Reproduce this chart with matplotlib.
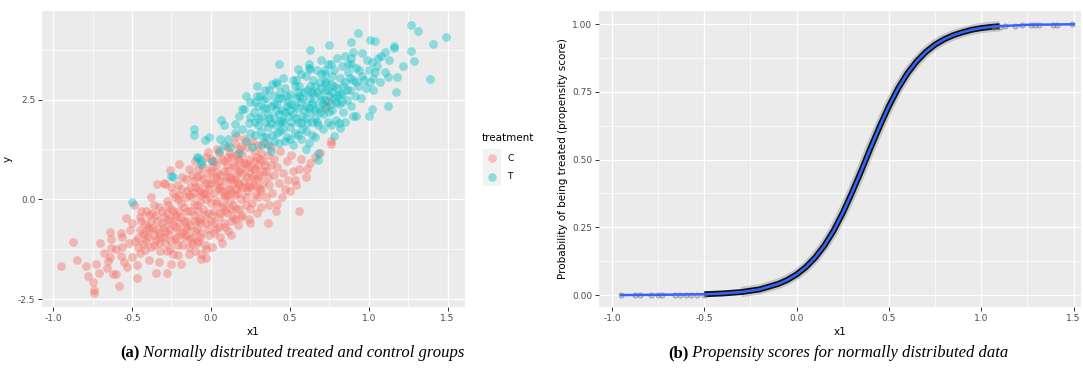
import matplotlib
import numpy as np

matplotlib.use("Agg")
from matplotlib import pyplot as plt
from matplotlib.lines import Line2D
from matplotlib.patches import Rectangle

# control group (treatment == "C")
CONTROL_X1 = [
    -0.95, -0.875, -0.85, -0.79, -0.78, -0.75, -0.74, -0.74, -0.73, -0.71,
    -0.66, -0.64, -0.64, -0.63, -0.63, -0.62, -0.60, -0.58, -0.57, -0.56,
    -0.57, -0.55, -0.54, -0.53, -0.51, -0.49, -0.50, -0.47, -0.47, -0.46,
    -0.44, -0.42, -0.41, -0.39, -0.38, -0.35, -0.34, -0.33, -0.29, -0.28,
    -0.26, -0.25, -0.24, -0.20, -0.19, -0.14, -0.06, -0.06, -0.03, -0.30,
    -0.02, 0.16, 0.56, 0.36, 0.25, 0.13, 0.69, 0.61, 0.56, 0.53,
    0.47, 0.42, 0.37, 0.49, 0.76, 0.76, 0.74, 0.72,
    -0.48, -0.45, -0.43, -0.42, -0.40, -0.39, -0.38, -0.37, -0.36, -0.35,
    -0.34, -0.33, -0.32, -0.31, -0.30, -0.29, -0.28, -0.27, -0.27, -0.26,
    -0.25, -0.24, -0.24, -0.23, -0.22, -0.21, -0.21, -0.20, -0.19, -0.18,
    -0.18, -0.17, -0.45, -0.52, -0.50, -0.56, -0.60, -0.68, -0.70, -0.65,
    -0.16, -0.15, -0.15, -0.14, -0.14, -0.13, -0.12, -0.12, -0.11, -0.11,
    -0.10, -0.10, -0.09, -0.09, -0.08, -0.08, -0.07, -0.07, -0.06, -0.06,
    -0.05, -0.05, -0.04, -0.04, -0.03, -0.03, -0.02, -0.02, -0.01, -0.01,
    0.00, 0.00, 0.00, 0.01, 0.01, 0.02, 0.02, 0.03, 0.03, 0.04,
    0.04, 0.05, 0.05, 0.06, 0.06, 0.07, 0.07, 0.08, 0.08, 0.09,
    0.09, 0.10, 0.10, 0.11, 0.11, 0.12, 0.12, 0.13, 0.13, 0.14,
    0.14, 0.15, 0.15, 0.16, 0.16, 0.17, 0.17, 0.18, 0.18, 0.19,
    0.19, 0.20, 0.20, 0.21, 0.21, 0.22, 0.22, 0.23, 0.23, 0.24,
    0.24, 0.25, 0.25, 0.26, 0.26, 0.27, 0.27, 0.28, 0.28, 0.29,
    0.29, 0.30, 0.30, 0.31, 0.31, 0.32, 0.32, 0.33, 0.33, 0.34,
    0.35, 0.35, 0.36, 0.37, 0.38, 0.38, 0.39, 0.40, 0.40, 0.41,
    0.42, 0.43, 0.44, 0.45, 0.46, 0.48, 0.50, 0.51, 0.52, 0.54,
    0.57, 0.60, 0.63, 0.66,
    -0.02, 0.03, 0.05, 0.08, 0.10, 0.12, 0.15, 0.17, 0.20, 0.22,
    0.25, 0.06, 0.09, 0.14, 0.18, -0.05, -0.08, 0.01, 0.04, 0.11,
    -0.10, -0.13, 0.16, 0.19, 0.23, 0.27, 0.30, 0.33, 0.36, 0.13,
    -0.20, -0.23, -0.16, -0.03, 0.07, 0.02,
    -0.28, -0.26, -0.25, -0.23, -0.22, -0.21, -0.20, -0.19, -0.18, -0.17,
    -0.16, -0.15, -0.14, -0.13, -0.12, -0.11, -0.10, -0.09, -0.08, -0.07,
    -0.06, -0.05, -0.04, -0.03, -0.02, -0.01, 0.00, 0.01, 0.02, 0.03,
    0.04, 0.05, 0.06, 0.07, 0.08, 0.09, 0.10, 0.11, 0.12, 0.13,
    0.14, 0.15, 0.16, 0.17, 0.18, 0.19, 0.20, 0.21, 0.22, 0.23,
    0.24, 0.25, 0.26, 0.27, 0.28, 0.29, 0.30, 0.31, 0.32, 0.34,
    -0.35, -0.33, -0.31, -0.30, -0.36, -0.40, -0.42, -0.38, -0.44, -0.46,
    0.00, 0.02, 0.05, 0.08, 0.10, -0.04, -0.07, 0.13, 0.15, 0.18,
    -0.45, -0.43, -0.41, -0.39, -0.37, -0.36, -0.34, -0.33, -0.32, -0.30,
    -0.29, -0.28, -0.27, -0.26, -0.25, -0.24, -0.22, -0.21, -0.20, -0.19,
    -0.17, -0.16, -0.15, -0.13, -0.12, -0.11, -0.10, -0.09, -0.08, -0.07,
]
CONTROL_Y = [
    -1.67, -1.08, -1.53, -1.67, -1.92, -2.08, -2.36, -2.28, -1.61, -1.84,
    -1.72, -0.83, -1.44, -1.00, -1.22, -1.87, -1.87, -2.17, -0.84, -1.19,
    -1.42, -1.57, -0.48, -1.69, -0.78, -0.15, -1.44, -1.97, -1.65, -0.96,
    -0.54, -1.28, -0.29, -1.53, 0.06, -1.86, 0.39, -1.57, 0.39, -1.86,
    0.73, -1.61, -1.36, 0.89, -1.63, -1.38, -1.36, -1.50, -1.46, 0.41,
    1.18, 1.58, -0.29, -0.59, -0.59, -0.90, 1.16, 0.77, 0.77, 0.48,
    0.27, -0.11, -0.15, 0.48, 1.39, 1.45, 2.46, 2.29,
    -1.05, -0.78, -1.12, -0.62, -0.95, -0.40, -1.20, -0.72, -0.15, -1.02,
    -0.55, -0.85, -1.30, -0.30, -0.70, -1.10, -0.05, -0.50, -0.88, -1.25,
    -0.25, 0.15, -0.65, -1.00, -0.40, -1.40, 0.35, -0.80, -0.10, -1.15,
    0.55, -0.55, -1.35, -1.10, -0.60, -0.95, -1.25, -1.35, -1.10, -1.55,
    -0.90, 0.20, -0.30, -1.20, 0.75, -0.65, 0.05, -0.95, 0.45, -0.40,
    -1.30, 0.95, -0.15, -0.75, 0.30, -1.05, 0.60, -0.50, 0.10, -0.85,
    -0.25, 0.80, -1.15, 0.40, -0.60, 0.00, -0.35, 0.65, -0.90, 0.25,
    -0.10, 1.00, -0.55, 0.50, -1.20, 0.15, -0.30, 0.85, -0.75, 0.35,
    -0.05, 1.15, -0.45, 0.60, -0.95, 0.20, -0.20, 0.95, -0.60, 0.45,
    0.05, 1.30, -0.35, 0.70, -0.80, 0.25, -0.05, 1.05, 0.50, -0.45,
    0.85, 0.10, 1.40, -0.25, 0.60, 1.00, -0.65, 0.35, 1.25, 0.00,
    0.75, -0.40, 1.10, 0.45, 1.50, -0.15, 0.90, 0.20, 1.30, 0.65,
    -0.50, 1.00, 0.30, 1.45, -0.10, 0.75, 1.20, 0.10, 0.50, 1.05,
    -0.35, 0.85, 1.35, 0.25, 0.60, 1.15, -0.20, 0.95, 0.40, 1.40,
    0.05, 0.70, 1.10, 0.35, 0.85, 1.30, 0.15, 0.60, 1.00, -0.30,
    0.80, 0.40, 1.20, 0.05, 0.65, 0.95, 0.20, 1.10, 0.70, 0.35,
    1.00, 0.55, 0.90, 1.05,
    0.35, 0.55, 0.25, 0.70, 0.10, 0.55, 0.80, 0.40, 0.65, 0.30,
    0.80, -0.35, -0.70, -0.15, -0.25, 0.15, -0.30, 0.80, 1.25, 1.05,
    -0.55, 0.30, 0.25, 1.30, 0.55, 0.35, 0.05, 0.70, 0.55, -0.55,
    -0.30, 0.05, -0.70, -1.25, -1.10, -0.85,
    -0.35, -0.75, 0.30, -0.45, -0.95, 0.00, -0.60, 0.25, -0.85, -0.20,
    0.50, -0.55, 0.10, -1.00, 0.60, -0.15, 0.30, -1.10, 0.75, -0.05,
    -0.60, 0.50, -0.40, 1.05, -0.75, 0.05, 0.40, -0.40, 0.95, -0.10,
    0.65, -0.70, 0.30, 1.00, 0.10, -0.30, 0.55, 0.25, 1.15, -0.25,
    0.40, -0.50, 1.10, 0.15, 0.70, -0.45, 0.30, 0.90, 0.05, 0.85,
    0.35, -0.25, 0.55, 0.95, 0.75, 0.30, 0.55, 1.00, 0.20, 0.85,
    -0.40, -1.10, -0.60, -0.95, -0.90, -0.70, -0.90, -0.55, -0.30, -1.20,
    0.70, -0.60, 0.45, -0.15, 0.85, 0.15, 0.20, 0.15, 0.50, 0.95,
    -0.45, -0.85, -1.05, -0.75, -0.35, -1.15, -0.75, -0.20, -0.95, -0.45,
    -0.80, -1.30, -0.15, -0.55, -1.05, -0.30, -0.70, -1.15, 0.10, -0.45,
    -0.95, 0.05, -0.75, -0.30, -1.10, 0.15, -0.80, 0.55, -0.55, -0.95,
]

# treated group (treatment == "T")
TREATED_X1 = [
    1.27, 1.31, 1.49, 1.41, 1.39, 1.27, 1.29, 1.22, 1.16, 1.16,
    1.10, 1.06, 1.01, 1.04, 0.96, 0.93, 0.89, 0.75, 0.63, 0.43,
    0.41, 0.29, 0.20, 1.12, 1.17, 1.18, 1.12, 1.02, 1.00, 1.03,
    0.78, 0.82, 0.68, 0.90, 0.92, 0.87, 0.89, 0.76, 0.72, 0.70,
    0.63, 0.55, 0.62, 0.54, -0.11, -0.11, -0.04, -0.01, 0.065, 0.086,
    0.056, 0.11, 0.155, 0.18, 0.21, 0.25, -0.25, -0.08, -0.06, 0.01,
    -0.50, -0.24, -0.09, -0.06,
    0.05, 0.12, 0.18, 0.22, 0.26, 0.15, 0.20, 0.28, 0.30, 0.24,
    0.08, 0.32, 0.35, 0.38, 0.40,
    0.27, 0.28, 0.30, 0.31, 0.32, 0.33, 0.34, 0.35, 0.36, 0.36,
    0.37, 0.38, 0.39, 0.40, 0.40, 0.41, 0.42, 0.42, 0.43, 0.44,
    0.45, 0.45, 0.46, 0.47, 0.48, 0.48, 0.49, 0.50, 0.50, 0.51,
    0.52, 0.52, 0.53, 0.54, 0.55, 0.55, 0.56, 0.57, 0.58, 0.58,
    0.59, 0.60, 0.60, 0.61, 0.62, 0.63, 0.63, 0.64, 0.65, 0.65,
    0.66, 0.67, 0.68, 0.68, 0.69, 0.70, 0.71, 0.72, 0.72, 0.73,
    0.74, 0.75, 0.76, 0.77, 0.78, 0.78, 0.79, 0.80, 0.81, 0.82,
    0.83, 0.84, 0.85, 0.86, 0.87, 0.88, 0.89, 0.90, 0.91, 0.92,
    0.93, 0.95, 0.96, 0.98, 1.00, 1.02, 1.03, 1.05, 1.07, 1.08,
    1.10, 1.13, 0.46, 0.53, 0.57, 0.62, 0.67, 0.70, 0.74, 0.80,
    0.85, 0.90, 0.44, 0.39, 0.34, 0.29, 0.25, 0.22, 0.43, 0.47,
    0.52, 0.57, 0.62, 0.66, 0.71, 0.76, 0.81, 0.85, 0.60, 0.68,
    0.50, 0.54, 0.56, 0.59, 0.61, 0.64, 0.66, 0.69, 0.71, 0.73,
    0.75, 0.77, 0.79, 0.82, 0.84, 0.48, 0.45, 0.41, 0.37, 0.33,
    0.30, 0.32, 0.35, 0.38, 0.40, 0.43, 0.44, 0.47, 0.49, 0.51,
    0.53, 0.55, 0.57, 0.58, 0.60, 0.62, 0.64, 0.66, 0.67, 0.69,
    0.70, 0.72, 0.74, 0.76, 0.78, 0.80, 0.83, 0.86, 0.88, 0.92,
    0.25, 0.28, 0.33, 0.36, 0.42, 0.46, 0.50, 0.55, 0.60, 0.64,
    0.94, 0.97, 0.99, 1.01, 1.04, 0.89, 0.83, 0.77, 0.72, 0.65,
]
TREATED_Y = [
    4.38, 4.21, 4.08, 3.89, 3.02, 3.71, 3.46, 3.33, 3.85, 3.80,
    3.68, 3.54, 3.99, 3.96, 3.66, 4.16, 3.94, 3.88, 3.73, 3.38,
    2.93, 2.60, 2.27, 2.33, 2.68, 3.06, 3.06, 2.27, 2.10, 2.74,
    1.58, 1.78, 0.99, 2.08, 2.08, 3.39, 3.38, 3.39, 3.23, 3.14,
    3.27, 3.27, 3.30, 2.98, 1.77, 1.60, 1.48, 1.56, 2.00, 1.85,
    1.52, 1.52, 1.89, 2.08, 2.27, 2.06, 0.58, 1.04, 0.89, 0.96,
    -0.07, 0.56, 1.06, 0.97,
    1.20, 1.30, 1.15, 1.45, 1.30, 1.65, 1.75, 1.60, 1.85, 1.90,
    1.35, 1.35, 1.55, 1.20, 1.45,
    2.20, 2.45, 2.05, 2.60, 1.70, 2.30, 1.95, 2.55, 2.15, 1.80,
    2.75, 2.35, 1.60, 2.05, 2.60, 1.85, 2.40, 2.90, 2.15, 1.70,
    2.55, 2.25, 1.95, 2.80, 2.35, 1.55, 2.10, 2.65, 1.80, 2.40,
    3.00, 2.15, 1.65, 2.55, 2.30, 1.95, 2.85, 2.45, 2.10, 1.75,
    2.70, 2.35, 3.10, 1.90, 2.55, 2.20, 2.85, 1.60, 2.45, 3.00,
    2.05, 2.70, 2.30, 1.85, 2.95, 2.50, 2.15, 2.75, 3.15, 2.35,
    1.95, 2.60, 2.90, 2.25, 3.25, 2.55, 2.00, 2.80, 2.40, 3.05,
    2.65, 2.20, 2.95, 2.50, 3.20, 2.75, 2.35, 3.00, 2.60, 3.30,
    2.85, 2.55, 3.10, 2.80, 3.25, 3.45, 3.05, 3.35, 2.95, 3.60,
    3.20, 3.50, 3.05, 2.85, 3.15, 3.40, 3.25, 3.50, 3.40, 3.55,
    3.60, 3.70, 2.70, 2.90, 2.75, 2.85, 2.45, 2.60, 1.40, 1.45,
    1.35, 1.50, 1.40, 1.55, 1.75, 1.85, 1.90, 1.95, 1.25, 1.15,
    2.25, 2.05, 2.60, 2.25, 2.75, 2.40, 2.85, 2.60, 2.40, 2.95,
    2.20, 2.70, 2.45, 2.65, 2.85, 2.60, 2.00, 2.25, 2.05, 2.50,
    2.35, 2.10, 2.30, 1.90, 2.40, 2.55, 1.95, 2.20, 2.45, 1.95,
    2.35, 2.70, 1.90, 2.55, 2.05, 2.30, 2.70, 2.25, 1.95, 2.20,
    2.80, 2.50, 2.75, 2.40, 2.85, 2.60, 2.45, 2.75, 3.05, 2.95,
    1.65, 1.95, 1.55, 1.35, 1.65, 1.75, 1.50, 1.60, 1.70, 1.95,
    3.25, 3.00, 3.50, 2.95, 3.20, 3.55, 3.35, 3.10, 2.95, 2.65,
]

# fitted propensity score along x1
CURVE_X1 = [-0.95, -0.75, -0.50, -0.40, -0.30, -0.20, -0.10, -0.05, 0.00, 0.05,
            0.10, 0.15, 0.20, 0.25, 0.30, 0.35, 0.40, 0.45, 0.50, 0.55,
            0.60, 0.65, 0.70, 0.75, 0.80, 0.85, 0.90, 0.95, 1.00, 1.05,
            1.10, 1.25, 1.50]
CURVE_SCORE = [0.000, 0.001, 0.003, 0.006, 0.011, 0.021, 0.041, 0.056, 0.076, 0.103,
               0.138, 0.182, 0.237, 0.303, 0.378, 0.458, 0.542, 0.622, 0.697, 0.763,
               0.818, 0.862, 0.897, 0.924, 0.944, 0.959, 0.970, 0.979, 0.985, 0.989,
               0.992, 0.997, 0.999]

# individual scores visible in the tails
TAIL_X1 = [-0.95, -0.875, -0.85, -0.79, -0.75, -0.73, -0.66, -0.63, -0.60, -0.57,
           -0.54, -0.50, 1.07, 1.10, 1.13, 1.18, 1.22, 1.27, 1.29, 1.31,
           1.39, 1.41, 1.49]
TAIL_SCORE = [0.000, 0.000, 0.000, 0.000, 0.000, 0.000, 0.000, 0.000, 0.000, 0.000,
              0.000, 0.000, 0.988, 0.990, 0.992, 0.994, 0.995, 0.996, 0.997, 0.997,
              0.998, 0.998, 0.999]

GROUP_COLORS = {"C": "#F8766D", "T": "#00BFC4"}
PANEL_BG = "#EBEBEB"
TICK_COLOR = "#4D4D4D"

W, H = 1083, 374


def _fig_rect(left, top, right, bottom):
    return [left / W, 1 - bottom / H, (right - left) / W, (bottom - top) / H]


def _ggplot_axes(axis, xmajor, ymajor, xminor, yminor):
    axis.set_facecolor(PANEL_BG)
    for spine in axis.spines.values():
        spine.set_visible(False)
    axis.set_xticks(xmajor)
    axis.set_yticks(ymajor)
    axis.set_xticks(xminor, minor=True)
    axis.set_yticks(yminor, minor=True)
    axis.grid(True, which="major", color="white", linewidth=1.0)
    axis.grid(True, which="minor", color="white", linewidth=0.5)
    axis.set_axisbelow(True)
    axis.tick_params(which="major", length=2.8, width=0.7, color="#333333",
                     labelsize=6.5, labelcolor=TICK_COLOR, pad=2)
    axis.tick_params(which="minor", length=0)


figure = plt.figure(figsize=(W / 100, H / 100), dpi=100)

# (a) scatter of both groups
left = figure.add_axes(_fig_rect(42, 11, 465, 307))
_ggplot_axes(left, [-1.0, -0.5, 0.0, 0.5, 1.0, 1.5], [-2.5, 0.0, 2.5],
             [-0.75, -0.25, 0.25, 0.75, 1.25], [-1.25, 1.25, 3.75])
left.scatter(CONTROL_X1, CONTROL_Y, s=40, color=GROUP_COLORS["C"], alpha=0.45, linewidths=0)
left.scatter(TREATED_X1, TREATED_Y, s=40, color=GROUP_COLORS["T"], alpha=0.4, linewidths=0)
left.set_xlim(-1.07, 1.61)
left.set_ylim(-2.7, 4.72)
left.set_xticklabels(["-1.0", "-0.5", "0.0", "0.5", "1.0", "1.5"])
left.set_yticklabels(["-2.5", "0.0", "2.5"])
left.set_xlabel("x1", fontsize=7.5, labelpad=3)
left.set_ylabel("y", fontsize=7.5, labelpad=4)

# legend drawn in figure pixels
figure.text(482 / W, 1 - 138 / H, "treatment", fontsize=7.5, va="center", ha="left")
for row, (name, color) in enumerate(GROUP_COLORS.items()):
    top = 149 + row * 18.3
    figure.add_artist(Rectangle((483 / W, 1 - (top + 18.3) / H), 18 / W, 18.3 / H,
                                transform=figure.transFigure, facecolor="#F2F2F2",
                                edgecolor="none"))
    figure.add_artist(Line2D([492 / W], [1 - (top + 9.2) / H], marker="o", markersize=6.2,
                             color=color, alpha=0.42, markeredgewidth=0, linestyle="none",
                             transform=figure.transFigure))
    figure.text(507 / W, 1 - (top + 9.2) / H, name, fontsize=6.5, va="center", ha="left")

# (b) propensity score curve
right = figure.add_axes(_fig_rect(599, 11, 1081, 307))
_ggplot_axes(right, [-1.0, -0.5, 0.0, 0.5, 1.0, 1.5], [0.0, 0.25, 0.5, 0.75, 1.0],
             [-0.75, -0.25, 0.25, 0.75, 1.25], [0.125, 0.375, 0.625, 0.875])
curve_x = np.array(CURVE_X1)
curve_p = np.array(CURVE_SCORE)
halo = (curve_x >= -0.3) & (curve_x <= 1.1)
band = (curve_x >= -0.5) & (curve_x <= 1.1)
right.plot(curve_x[halo], curve_p[halo], color="#9A9A9A", alpha=0.45, linewidth=7.5,
           solid_capstyle="butt", solid_joinstyle="round")
right.plot(curve_x[band], curve_p[band], color="#111111", linewidth=4.3,
           solid_capstyle="butt", solid_joinstyle="round")
right.scatter(TAIL_X1, TAIL_SCORE, s=14, facecolor="#9A9A9A", edgecolor="#555555",
              alpha=0.45, linewidths=0.6, zorder=3)
right.plot(CURVE_X1, CURVE_SCORE, color="#3366FF", linewidth=1.8, zorder=4,
           solid_joinstyle="round")
right.set_xlim(-1.07, 1.54)
right.set_ylim(-0.044, 1.048)
right.set_xticklabels(["-1.0", "-0.5", "0.0", "0.5", "1.0", "1.5"])
right.set_yticklabels(["0.00", "0.25", "0.50", "0.75", "1.00"])
right.set_xlabel("x1", fontsize=7.5, labelpad=3)
right.set_ylabel("Probability of being treated (propensity score)", fontsize=7.5, labelpad=3)

# sub-captions under each panel
for x_px, tag, caption in [(120, "(a)", "Normally distributed treated and control groups"),
                           (668, "(b)", "Propensity scores for normally distributed data")]:
    label = figure.text(x_px / W, 1 - 357 / H, tag, fontsize=12, fontweight="bold",
                        family="Liberation Serif", va="baseline", ha="left")
    right.annotate(" " + caption, xy=(1, 0), xycoords=label, fontsize=12,
                   fontstyle="italic", family="Liberation Serif", va="bottom", ha="left",
                   annotation_clip=False)

figure.savefig("out.png", dpi=100)
plt.close(figure)
